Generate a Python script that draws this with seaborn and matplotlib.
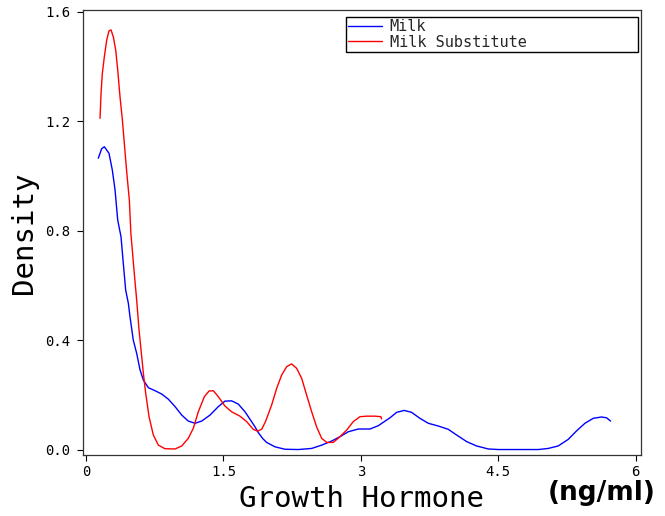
import matplotlib
matplotlib.use("Agg")
import matplotlib.pyplot as plt
import numpy as np
import pandas as pd
import seaborn as sns

# ---- data ----
milk_x = [0.134, 0.171, 0.200, 0.251, 0.287, 0.317, 0.346, 0.382, 0.407, 0.433,
          0.462, 0.480, 0.516, 0.553, 0.590, 0.626, 0.681, 0.754, 0.826, 0.899,
          0.972, 1.045, 1.117, 1.190, 1.263, 1.354, 1.445, 1.517, 1.590, 1.663,
          1.736, 1.808, 1.845, 1.881, 1.930, 1.972, 2.063, 2.172, 2.318, 2.464,
          2.573, 2.682, 2.773, 2.864, 2.973, 3.100, 3.191, 3.270, 3.319, 3.392,
          3.475, 3.555, 3.646, 3.737, 3.846, 3.955, 4.047, 4.156, 4.265, 4.393,
          4.502, 4.940, 5.047, 5.156, 5.265, 5.356, 5.448, 5.538, 5.630, 5.684,
          5.728]
milk_y = [1.065, 1.100, 1.107, 1.083, 1.022, 0.949, 0.839, 0.778, 0.681, 0.583,
          0.535, 0.486, 0.400, 0.352, 0.291, 0.254, 0.226, 0.215, 0.203, 0.184,
          0.157, 0.126, 0.104, 0.096, 0.104, 0.126, 0.157, 0.177, 0.178, 0.166,
          0.138, 0.102, 0.083, 0.062, 0.040, 0.026, 0.010, 0.001, 0.000, 0.004,
          0.016, 0.031, 0.047, 0.065, 0.075, 0.075, 0.087, 0.105, 0.116, 0.136,
          0.143, 0.136, 0.114, 0.096, 0.086, 0.074, 0.053, 0.029, 0.013, 0.002,
          0.000, 0.000, 0.004, 0.013, 0.037, 0.068, 0.096, 0.114, 0.119, 0.116,
          0.104]

sub_x = [0.153, 0.164, 0.178, 0.200, 0.226, 0.251, 0.273, 0.298, 0.324, 0.346,
         0.371, 0.397, 0.418, 0.444, 0.473, 0.490, 0.527, 0.553, 0.579, 0.590,
         0.626, 0.652, 0.688, 0.735, 0.790, 0.862, 0.972, 1.045, 1.117, 1.172,
         1.226, 1.292, 1.343, 1.390, 1.445, 1.517, 1.590, 1.681, 1.754, 1.826,
         1.874, 1.920, 1.962, 2.027, 2.082, 2.136, 2.191, 2.245, 2.300, 2.355,
         2.409, 2.464, 2.518, 2.573, 2.628, 2.700, 2.773, 2.846, 2.918, 2.991,
         3.064, 3.155, 3.220, 3.228]
sub_y = [1.211, 1.302, 1.375, 1.436, 1.497, 1.531, 1.534, 1.509, 1.461, 1.388,
         1.290, 1.205, 1.120, 1.016, 0.912, 0.790, 0.644, 0.547, 0.437, 0.400,
         0.279, 0.205, 0.120, 0.053, 0.016, 0.003, 0.002, 0.013, 0.041, 0.078,
         0.138, 0.193, 0.214, 0.215, 0.193, 0.159, 0.138, 0.122, 0.102, 0.074,
         0.067, 0.075, 0.104, 0.163, 0.224, 0.272, 0.303, 0.313, 0.297, 0.260,
         0.199, 0.138, 0.083, 0.041, 0.026, 0.026, 0.047, 0.071, 0.102, 0.120,
         0.122, 0.122, 0.120, 0.112]

series_names = ["Milk", "Milk Substitute"]
series_colors = ["#0000ff", "#ff0000"]
x_ticks = [0, 1.5, 3, 4.5, 6]
x_tick_labels = ["0", "1.5", "3", "4.5", "6"]
y_ticks = [0.0, 0.4, 0.8, 1.2, 1.6]
y_tick_labels = ["0.0", "0.4", "0.8", "1.2", "1.6"]
x_title = "Growth Hormone"
x_units = "(ng/ml)"
y_title = "Density"

df = pd.concat([
    pd.DataFrame({"x": milk_x, "y": milk_y, "series": series_names[0]}),
    pd.DataFrame({"x": sub_x, "y": sub_y, "series": series_names[1]}),
], ignore_index=True)

sns.set_style("ticks")
plt.rcParams["font.family"] = ["DejaVu Sans Mono", "DejaVu Sans"]

W, H = 665, 516
fig = plt.figure(figsize=(W / 100, H / 100), dpi=100)
ax = fig.add_axes([83 / W, 1 - 455 / H, (641 - 83) / W, (455 - 10) / H])

sns.lineplot(data=df, x="x", y="y", hue="series", hue_order=series_names,
             palette=dict(zip(series_names, series_colors)),
             estimator=None, sort=False, linewidth=1.0, ax=ax)

ax.set_xlim(-0.033, 6.06)
ax.set_ylim(-0.020, 1.607)
ax.set_xticks(x_ticks)
ax.set_xticklabels(x_tick_labels)
ax.set_yticks(y_ticks)
ax.set_yticklabels(y_tick_labels)
ax.set_xlabel("")
ax.set_ylabel("")
ax.tick_params(axis="both", direction="out", length=4, width=0.8,
               labelsize=10, colors="black", labelcolor="black")
ax.tick_params(axis="y", pad=5)
ax.tick_params(axis="x", pad=3)
for s in ax.spines.values():
    s.set_visible(True)
    s.set_color("#333333")
    s.set_linewidth(0.9)

handles, labels = ax.get_legend_handles_labels()
leg = ax.legend(handles, labels,
                bbox_to_anchor=(346 / W, 1 - 52 / H, (638 - 346) / W, 39 / H),
                bbox_transform=fig.transFigure, loc="lower left", mode="expand",
                borderaxespad=0, fontsize=11, labelspacing=0.05, borderpad=0.15,
                handlelength=2.2, handletextpad=0.5, frameon=True, fancybox=False,
                framealpha=1, edgecolor="black")
leg.get_frame().set_linewidth(1.0)
for ln in leg.get_lines():
    ln.set_linewidth(1.0)

fig.text(23.5 / W, 1 - 233 / H, y_title, rotation=90, fontsize=21,
         ha="center", va="center", color="black")
fig.text(362 / W, 1 - 507 / H, x_title, fontsize=21, ha="center",
         va="baseline", color="black")
fig.text(548 / W, 1 - 500 / H, x_units, fontsize=19, ha="left",
         va="baseline", color="black", family="DejaVu Sans", weight="bold")

fig.savefig("out.png", dpi=100)
